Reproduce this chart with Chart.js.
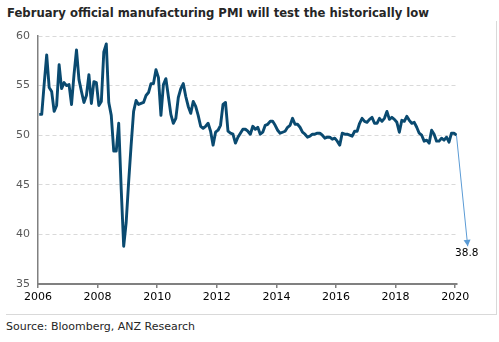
<!DOCTYPE html>
<html>
<head>
<meta charset="utf-8">
<title>China official manufacturing PMI</title>
<script src="https://cdn.jsdelivr.net/npm/chart.js@4.4.1/dist/chart.umd.min.js"></script>
<style>
  html, body { margin: 0; padding: 0; background: #fff; }
  #wrap { position: relative; width: 499px; height: 342px; overflow: hidden; font-family: "DejaVu Sans", Verdana, sans-serif; }
  #frame { position: absolute; left: 6px; top: 21px; width: 490px; height: 293px; border-right: 1px solid #d9d9d9; border-bottom: 1px solid #d9d9d9; }
  #title { position: absolute; left: 7px; top: 6px; font-size: 11.65px; font-weight: bold; color: #262626; white-space: nowrap; }
  #source { position: absolute; left: 6px; top: 320px; font-size: 11px; color: #262626; white-space: nowrap; }
  #chartBox { position: absolute; left: 0; top: 0; width: 499px; height: 342px; }
</style>
</head>
<body>
<div id="wrap">
  <div id="frame"></div>
  <div id="title">February official manufacturing PMI will test the historically low</div>
  <div id="source">Source: Bloomberg, ANZ Research</div>
  <div id="chartBox"><canvas id="pmiChart"></canvas></div>
</div>
<script>
// official manufacturing PMI, monthly, Jan 2006 .. Jan 2020
var startYear = 2006;
var pmi = [
  52.1, 52.1, 55.2, 58.1, 54.8, 54.4, 52.4, 53.0, 57.1, 54.7, 55.3, 55.0,
  55.1, 53.1, 56.1, 58.6, 55.6, 54.4, 53.3, 54.0, 56.1, 53.2, 55.4, 55.3,
  53.0, 53.4, 58.4, 59.2, 53.3, 52.0, 48.4, 48.4, 51.2, 44.6, 38.8, 41.2,
  45.3, 49.0, 52.4, 53.5, 53.1, 53.2, 53.3, 54.0, 54.3, 55.2, 55.2, 56.6,
  55.8, 52.0, 55.1, 55.7, 53.9, 52.1, 51.2, 51.7, 53.8, 54.7, 55.2, 53.9,
  52.9, 52.2, 53.4, 52.9, 52.0, 50.9, 50.7, 50.9, 51.2, 50.4, 49.0, 50.3,
  50.5, 51.0, 53.1, 53.3, 50.4, 50.2, 50.1, 49.2, 49.8, 50.2, 50.6, 50.6,
  50.4, 50.1, 50.9, 50.6, 50.8, 50.1, 50.3, 51.0, 51.1, 51.4, 51.4, 51.0,
  50.5, 50.2, 50.3, 50.4, 50.8, 51.0, 51.7, 51.1, 51.1, 50.8, 50.3, 50.1,
  49.8, 49.9, 50.1, 50.1, 50.2, 50.2, 50.0, 49.7, 49.8, 49.8, 49.6, 49.7,
  49.4, 49.0, 50.2, 50.1, 50.1, 50.0, 49.9, 50.4, 50.4, 51.2, 51.7, 51.4,
  51.3, 51.6, 51.8, 51.2, 51.2, 51.7, 51.4, 51.7, 52.4, 51.6, 51.8, 51.6,
  51.3, 50.3, 51.5, 51.4, 51.9, 51.5, 51.2, 51.3, 50.8, 50.2, 50.0, 49.4,
  49.5, 49.2, 50.5, 50.1, 49.4, 49.4, 49.7, 49.5, 49.8, 49.3, 50.2, 50.2,
  50.0
];
var yearTicks = [2006, 2008, 2010, 2012, 2014, 2016, 2018, 2020];
var valueTicks = [35, 40, 45, 50, 55, 60];

// February call: arrow from the last print down to the old low
var febCall = 38.8;
var febCallAt = 2020.42;

var pmiPoints = pmi.map(function (v, i) {
  return { x: startYear + (i + 0.5) / 12, y: v };
});
var lastPoint = pmiPoints[pmiPoints.length - 1];

// arrow head + value label at the end of the forecast line
var arrowHead = {
  id: 'arrowHead',
  afterDatasetsDraw: function (chart) {
    var meta = chart.getDatasetMeta(1);
    var a = meta.data[0], b = meta.data[1];
    var ctx = chart.ctx;
    var ang = Math.atan2(b.y - a.y, b.x - a.x);
    ctx.save();
    ctx.fillStyle = '#5b9bd5';
    ctx.translate(b.x, b.y);
    ctx.rotate(ang);
    ctx.beginPath();
    ctx.moveTo(0, 0);
    ctx.lineTo(-6.5, -3.5);
    ctx.lineTo(-6.5, 3.5);
    ctx.closePath();
    ctx.fill();
    ctx.restore();

    ctx.save();
    ctx.font = '10.5px "DejaVu Sans"';
    ctx.fillStyle = '#000';
    ctx.textAlign = 'center';
    ctx.textBaseline = 'top';
    ctx.fillText(febCall.toFixed(1), b.x - 1, b.y + 2);
    ctx.restore();
  }
};

var ctx = document.getElementById('pmiChart').getContext('2d');
var pmiChart = new Chart(ctx, {
  type: 'line',
  data: {
    datasets: [{
      label: 'PMI',
      data: pmiPoints,
      borderColor: '#0a4a70',
      borderWidth: 2.9,
      pointRadius: 0,
      tension: 0,
      borderJoinStyle: 'round'
    }, {
      label: 'Feb forecast',
      data: [lastPoint, { x: febCallAt, y: febCall }],
      borderColor: '#5b9bd5',
      borderWidth: 1,
      pointRadius: 0,
      clip: false
    }]
  },
  options: {
    responsive: true,
    maintainAspectRatio: false,
    animation: false,
    events: [],
    layout: { padding: { top: 36, right: 42, bottom: 0, left: 0 } },
    plugins: {
      legend: { display: false },
      tooltip: { enabled: false }
    },
    scales: {
      x: {
        type: 'linear',
        min: 2006,
        max: 2020.06,
        afterBuildTicks: function (s) { s.ticks = yearTicks.map(function (v) { return { value: v }; }); },
        afterFit: function (s) { s.height = 58; },
        grid: { drawOnChartArea: false, drawTicks: true, tickLength: 4, color: '#808080', lineWidth: 1.5 },
        border: { color: '#808080', width: 2 },
        ticks: {
          font: { family: 'DejaVu Sans', size: 11 },
          color: '#000',
          padding: 3,
          maxRotation: 0,
          autoSkip: false,
          callback: function (v) { return String(v); }
        }
      },
      y: {
        min: 35,
        max: 60,
        afterBuildTicks: function (s) { s.ticks = valueTicks.map(function (v) { return { value: v }; }); },
        afterFit: function (s) { s.width = 38; },
        grid: { color: '#d9d9d9', lineWidth: 1, drawTicks: false },
        border: { color: '#808080', width: 1.5, dash: [4, 3] },
        ticks: {
          font: { family: 'DejaVu Sans', size: 11 },
          color: '#595959',
          padding: 8,
          callback: function (v) { return String(v); }
        }
      }
    }
  },
  plugins: [arrowHead]
});
</script>
</body>
</html>
